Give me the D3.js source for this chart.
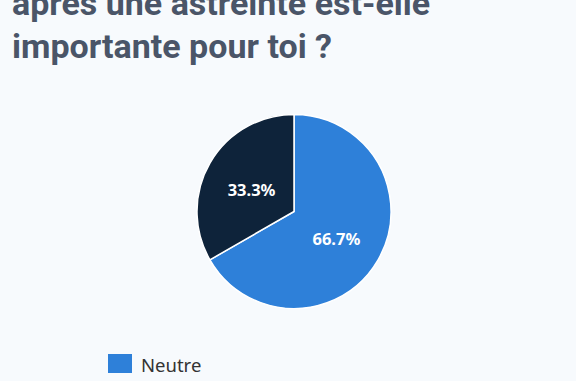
<!DOCTYPE html>
<html>
<head>
<meta charset="utf-8">
<script src="https://cdn.jsdelivr.net/npm/d3@7"></script>
<style>
  html, body { margin: 0; padding: 0; background: #f7fafd; overflow: hidden; }
  svg { display: block; }
</style>
</head>
<body>
<div id="chart"></div>
<script>
const titleLines = ["après une astreinte est-elle", "importante pour toi ?"];
const categories = ["Neutre", "Oui"];
const shares = [66.7, 33.3];
const colors = ["#2e80d9", "#0e233a"];

const W = 576, H = 381;
const svg = d3.select("#chart").append("svg")
    .attr("width", W)
    .attr("height", H);

svg.append("rect").attr("width", W).attr("height", H).attr("fill", "#f7fafd");

// Title (top part is cut off in the frame)
svg.append("g").selectAll("text")
    .data(titleLines)
    .enter()
    .append("text")
    .attr("x", 12)
    .attr("y", (d, i) => 15 + i * 43)
    .style("font-family", "Roboto")
    .style("font-weight", "bold")
    .style("font-size", "34px")
    .style("fill", "#4a5568")
    .text(d => d);

// Pie
const cx = 294, cy = 211.5, r = 97;
const pie = d3.pie().sort(null).value(d => d.value);
const arcs = pie(categories.map((c, i) => ({ key: c, value: shares[i], color: colors[i] })));
const arc = d3.arc().innerRadius(0).outerRadius(r);
const labelArc = d3.arc().innerRadius(49).outerRadius(49);

const g = svg.append("g").attr("transform", "translate(" + cx + "," + cy + ")");
g.selectAll("path")
    .data(arcs)
    .enter()
    .append("path")
    .attr("d", arc)
    .attr("fill", d => d.data.color)
    .attr("stroke", "#ffffff")
    .attr("stroke-width", 1.5)
    .attr("stroke-linejoin", "round");

g.selectAll("text")
    .data(arcs)
    .enter()
    .append("text")
    .attr("transform", d => "translate(" + labelArc.centroid(d) + ")")
    .attr("text-anchor", "middle")
    .attr("y", 3)
    .attr("dy", "0.35em")
    .style("font-family", "Noto Sans")
    .style("font-weight", "bold")
    .style("font-size", "16.5px")
    .style("fill", "#ffffff")
    .text(d => d.data.value.toFixed(1) + "%");

// Legend
const legend = svg.append("g").attr("transform", "translate(108,354)");
const items = legend.selectAll("g")
    .data(categories)
    .enter()
    .append("g")
    .attr("transform", (d, i) => "translate(0," + i * 30 + ")");
items.append("rect")
    .attr("width", 24)
    .attr("height", 19)
    .attr("fill", (d, i) => colors[i]);
items.append("text")
    .attr("x", 33)
    .attr("y", 17.5)
    .style("font-family", "Noto Sans")
    .style("font-size", "18.5px")
    .style("fill", "#333333")
    .text(d => d);
</script>
</body>
</html>
